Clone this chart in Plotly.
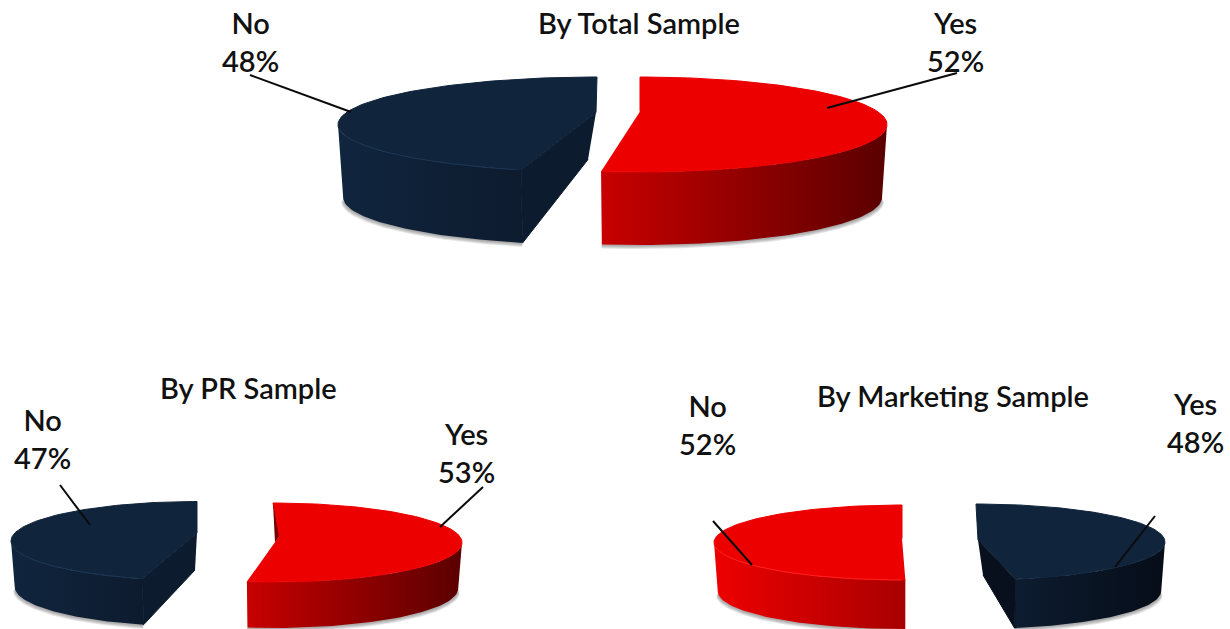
import numpy as np
import plotly.graph_objects as go

# ---- data ----
samples = ["By Total Sample", "By PR Sample", "By Marketing Sample"]
yes_share = [52, 53, 48]
no_share = [48, 47, 52]
answer_labels = ["Yes", "No"]

# ---- colours ----
RED_TOP = "#ec0000"
NAVY_TOP = "#10243c"
TEXT = "#111111"

# ---- layout of each drawn wedge (pixels on the hidden 1230x629 axes) ----
WEDGES = [
    dict(s=0, a=0, cx=640, cy=124.5, rx=247, ry=47.5, d=1, k=1.01, ax=0, ay=-13, dep=73, top=RED_TOP,
         side=["#c80000", "#5a0000"], rim=None, cut=None),
    dict(s=0, a=1, cx=597, cy=124.5, rx=259, ry=47.5, d=-1, k=0.943, ax=-1, ay=-12, dep=73, top=NAVY_TOP,
         side=["#10253e", "#0d1b2e"], rim="#1c3655", cut=(-8, 47, "#0d1b2e")),
    dict(s=1, a=0, cx=273, cy=542.5, rx=189, ry=39.5, d=1, k=0.985, ax=6, ay=-6, dep=46, top=RED_TOP,
         side=["#c80000", "#5a0000"], rim=None, cut=None, back="#7a0000"),
    dict(s=1, a=1, cx=197, cy=541, rx=186, ry=39.5, d=-1, k=0.963, ax=0, ay=-8, dep=46, top=NAVY_TOP,
         side=["#10253e", "#0d1b2e"], rim="#1c3655", cut=(-2, 37, "#0d1b2e")),
    dict(s=2, a=1, cx=902, cy=542.5, rx=188, ry=37.5, d=-1, k=0.967, ax=0, ay=-4, dep=49, top=RED_TOP,
         side=["#ee0000", "#a80000"], rim="#ff2020", cut=None),
    dict(s=2, a=0, cx=976, cy=542, rx=189, ry=38, d=1, k=0.972, ax=2, ay=-2, dep=49, top=NAVY_TOP,
         side=["#0d1c30", "#060d18"], rim=None, cut=(5, 35, "#07101c")),
]
TITLE_POS = [(639, 22), (248, 387.5), (953, 395)]
LABEL_POS = {(0, 0): (955, 41), (0, 1): (250, 41), (1, 0): (466, 452), (1, 1): (42, 438),
             (2, 0): (1195, 422), (2, 1): (707, 424)}
LEADERS = {(0, 0): ((957, 73), (827, 108)), (0, 1): ((250, 75), (351, 112)),
           (1, 0): ((483, 487), (440, 527)), (1, 1): ((60, 485), (90, 525)),
           (2, 0): ((1155, 516), (1115, 567)), (2, 1): ((713, 521), (752, 565))}
BOTTOM_SCALE = 0.98

fig = go.Figure()


def poly(x, y, edge=None, **kw):
    line = dict(width=1, color=edge) if edge else dict(width=0)
    fig.add_trace(go.Scatter(x=x, y=y, mode="lines", fill="toself", line=line,
                             hoverinfo="skip", showlegend=False, **kw))


shares = [yes_share, no_share]
for w in WEDGES:
    share = shares[w["a"]][w["s"]]
    sweep = share / 100 * 2 * np.pi * w["k"]
    ex = lambda th, sc=1.0: w["cx"] + w["d"] * w["rx"] * sc * np.sin(th)
    ey = lambda th, sc=1.0: w["cy"] - w["ry"] * sc * np.cos(th)
    apex = (w["cx"] + w["d"] * abs(w["ax"]), w["cy"] + w["ay"])

    vis = np.linspace(np.pi / 2, sweep, 60)
    bx, by = ex(vis, BOTTOM_SCALE), ey(vis) + w["dep"]

    # soft shadow under the disc
    for off in (4, 3, 2, 1):
        poly(list(ex(vis, BOTTOM_SCALE + off * 0.002)) + [ex(sweep, BOTTOM_SCALE)],
             list(ey(vis) + w["dep"] + off) + [ey(sweep) + w["dep"]],
             fillcolor="rgba(90,90,90,0.16)")

    # outer wall
    sx = list(ex(vis)) + list(bx[::-1])
    sy = list(ey(vis)) + list(by[::-1])
    cs = w["side"]
    poly(sx, sy, fillgradient=dict(type="horizontal", colorscale=[[0, cs[0]], [1, cs[1]]]))

    # cut face
    if w.get("cut"):
        c = w["cut"]
        poly([apex[0], ex(sweep), ex(sweep, BOTTOM_SCALE), apex[0] + w["d"] * abs(c[0])],
             [apex[1], ey(sweep), ey(sweep) + w["dep"], apex[1] + c[1]], fillcolor=c[2], edge=c[2])

    # top face
    arc = np.linspace(0, sweep, 120)
    poly([apex[0]] + list(ex(arc)), [apex[1]] + list(ey(arc)), fillcolor=w["top"], edge=w["top"])

    if w.get("back"):
        poly([ex(0), apex[0], ex(0) + 2], [ey(0), apex[1], apex[1] + 6], fillcolor=w["back"])

    if w.get("rim"):
        r = np.linspace(np.pi / 2 + 0.12, sweep - 0.02, 60)
        fig.add_trace(go.Scatter(x=ex(r), y=ey(r), mode="lines", line=dict(color=w["rim"], width=1),
                                 hoverinfo="skip", showlegend=False))

# leader lines
for (p0, p1) in LEADERS.values():
    fig.add_trace(go.Scatter(x=[p0[0], p1[0]], y=[p0[1], p1[1]], mode="lines",
                             line=dict(color="#0a0a0a", width=2), hoverinfo="skip", showlegend=False))

# text
for i, title in enumerate(samples):
    fig.add_annotation(x=TITLE_POS[i][0], y=TITLE_POS[i][1], text=title, showarrow=False,
                       font=dict(family="Lato", size=29, color=TEXT, weight=600))
for s in range(3):
    for a in range(2):
        x, y = LABEL_POS[(s, a)]
        fig.add_annotation(x=x, y=y, text=f"{answer_labels[a]}<br>{shares[a][s]}%", showarrow=False,
                           font=dict(family="Lato", size=29, color=TEXT, weight=600),
                           align="center", yanchor="middle")

fig.update_layout(width=1230, height=629, margin=dict(l=0, r=0, t=0, b=0),
                  paper_bgcolor="white", plot_bgcolor="white", showlegend=False,
                  xaxis=dict(range=[0, 1230], visible=False, fixedrange=True),
                  yaxis=dict(range=[629, 0], visible=False, fixedrange=True))
fig.write_html("out.html", config=dict(displayModeBar=False),
               post_script="document.body.style.margin='0';document.body.style.overflow='hidden';")
